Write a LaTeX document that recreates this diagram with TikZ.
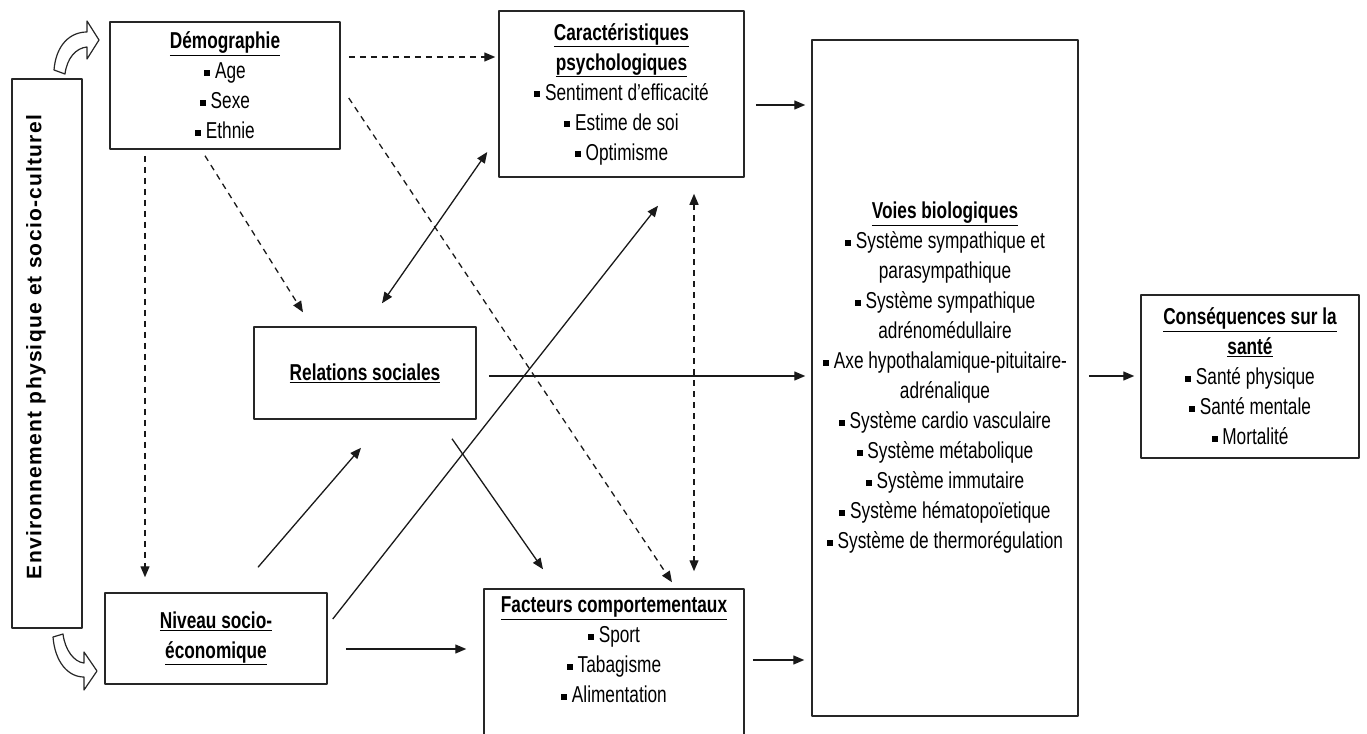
\documentclass[tikz,border=0pt]{standalone}
\usepackage{fontspec}
\setmainfont{Liberation Sans}[FakeStretch=0.75]
\newfontfamily\envfont{Liberation Sans}[LetterSpace=6]
\usetikzlibrary{arrows.meta}
\newcommand{\puce}{\rule[0.22ex]{0.26em}{0.26em}~}
\newcommand{\titre}[1]{\textbf{\underline{#1}}}
\begin{document}
\begin{tikzpicture}[x=1pt,y=-1pt,line join=round,>={Triangle[length=11pt,width=9pt]}]
    \tikzset{boite/.style={draw=black!85,line width=1.5pt,align=center,inner sep=0pt,font=\fontsize{23}{30}\selectfont},
             fleche/.style={->,line width=1.3pt,draw=black!90},
             pointille/.style={fleche,dash pattern=on 6pt off 5pt},
             virage/.style={draw=black!85,fill=white,line width=1.2pt}}
    \useasboundingbox (0,0) rectangle (1367,733);
    % boites
    \node[boite,minimum width=70pt,minimum height=549pt] (env) at (47,353.5) {};
    \node[rotate=90,font=\envfont\bfseries\fontsize{21}{25}\selectfont] (envtxt) at (36,347) {Environnement physique et socio-culturel};
    \node[boite,minimum width=230pt,minimum height=127pt] (demo) at (225,85.5) {\titre{Démographie}\\\puce Age\\\puce Sexe\\\puce Ethnie};
    \node[boite,minimum width=245pt,minimum height=166pt] (psy) at (621.5,94) {\titre{Caractéristiques}\\\titre{psychologiques}\\\puce Sentiment d'efficacité\\\puce Estime de soi\\\puce Optimisme};
    \node[boite,minimum width=222pt,minimum height=92pt] (rel) at (365,373) {\titre{Relations sociales}};
    \node[boite,minimum width=222pt,minimum height=91pt] (niv) at (216,638.5) {\titre{Niveau socio-}\\\titre{économique}};
    \node[boite,minimum width=260pt,minimum height=161pt] (fac) at (614,669.5) {\titre{Facteurs comportementaux}\\\puce Sport\\\puce Tabagisme\\\puce Alimentation\\\strut};
    \node[boite,minimum width=266pt,minimum height=676pt] (voies) at (945,378) {\titre{Voies biologiques}\\\puce Système sympathique et\\parasympathique\\\puce Système sympathique\\adrénomédullaire\\\puce Axe hypothalamique-pituitaire-\\adrénalique\\\puce Système cardio vasculaire\\\puce Système métabolique\\\puce Système immutaire\\\puce Système hématopoïetique\\\puce Système de thermorégulation};
    \node[boite,minimum width=218pt,minimum height=163pt] (cons) at (1250,376.5) {\titre{Conséquences sur la}\\\titre{santé}\\\puce Santé physique\\\puce Santé mentale\\\puce Mortalité};
    % fleches courbes
    \draw[virage] (54,70) .. controls (56,45) and (70,32) .. (87,32) -- (87,21) -- (99,40) -- (87,59) -- (87,47) .. controls (76,48) and (67,58) .. (65,74) -- cycle;
    \draw[virage] (53,637) .. controls (55,662) and (68,677) .. (84,677) -- (84,690) -- (97,671) -- (84,652) -- (84,663) .. controls (74,662) and (65,650) .. (63,634) -- cycle;
    % liens en pointilles
    \draw[pointille] ([xshift=8pt,yshift=28.5pt]demo.east) -- ([xshift=-3pt,yshift=37pt]psy.west);
    \draw[pointille] ([xshift=-80pt,yshift=-6pt]demo.south) -- ([xshift=-71pt,yshift=15pt]niv.north);
    \draw[pointille] ([xshift=-20pt,yshift=-6pt]demo.south) -- ([xshift=-62pt,yshift=14pt]rel.north);
    \draw[pointille] ([xshift=8pt,yshift=-12.5pt]demo.east) -- ([xshift=58pt,yshift=6pt]fac.north);
    \draw[pointille,<->] ([xshift=72.5pt,yshift=-16pt]psy.south) -- ([xshift=80pt,yshift=17pt]fac.north);
    % liens pleins
    \draw[fleche,<->] ([xshift=-11pt,yshift=-58pt]psy.west) -- ([xshift=17pt,yshift=23pt]rel.north);
    \draw[fleche] ([xshift=11pt,yshift=-11pt]psy.east) -- ([xshift=-6pt,yshift=273pt]voies.west);
    \draw[fleche] ([xshift=12pt,yshift=-3pt]rel.east) -- ([xshift=-6pt,yshift=2pt]voies.west);
    \draw[fleche] ([xshift=87pt,yshift=-19pt]rel.south) -- ([xshift=-71pt,yshift=19pt]fac.north);
    \draw[fleche] ([xshift=42pt,yshift=25pt]niv.north) -- ([xshift=-4pt,yshift=-28pt]rel.south);
    \draw[fleche] ([xshift=5pt,yshift=19.5pt]niv.east) -- ([xshift=36.5pt,yshift=-28pt]psy.south);
    \draw[fleche] ([xshift=18pt,yshift=-10.5pt]niv.east) -- ([xshift=-17pt,yshift=20.5pt]fac.west);
    \draw[fleche] ([xshift=8pt,yshift=9.5pt]fac.east) -- ([xshift=-7pt,yshift=-282pt]voies.west);
    \draw[fleche] ([xshift=10pt,yshift=2pt]voies.east) -- ([xshift=-6pt,yshift=0.5pt]cons.west);
\end{tikzpicture}
\end{document}
